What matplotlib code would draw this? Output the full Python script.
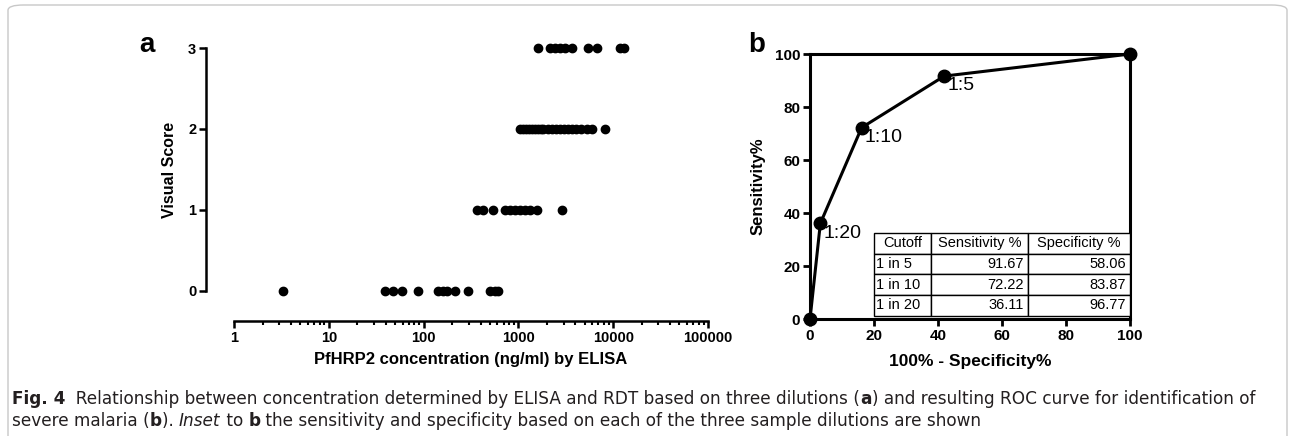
import numpy as np
import matplotlib.pyplot as plt
from matplotlib.patches import FancyBboxPatch

plt.rcParams['font.family'] = ['Liberation Sans', 'DejaVu Sans']

# panel a: ELISA concentration (ng/ml) against visual score
conc_0 = [3.3, 39, 48, 59, 87, 142, 160, 177, 214, 294, 502, 566, 609]
conc_1 = [366, 423, 540, 722, 815, 921, 1040, 1175, 1325, 1571, 2884]
conc_2 = [1040, 1120, 1200, 1290, 1390, 1500, 1610, 1740, 1830, 2050, 2250, 2480,
          2750, 3030, 3350, 3700, 4100, 4600, 5300, 5970, 8200]
conc_3 = [1610, 2155, 2432, 2746, 3103, 3676, 5420, 6745, 11800, 13000]
scores = [0, 1, 2, 3]

# panel b: ROC curve
fpr = [0, 3.23, 16.13, 41.94, 100]
tpr = [0, 36.11, 72.22, 91.67, 100]
pt_labels = ['', '1:20', '1:10', '1:5', '']

tab_cols = ['Cutoff', 'Sensitivity %', 'Specificity %']
tab_rows = [['1 in 5', '91.67', '58.06'],
            ['1 in 10', '72.22', '83.87'],
            ['1 in 20', '36.11', '96.77']]

fig = plt.figure(figsize=(12.95, 4.36), dpi=100)

# frame round the figure
frame = FancyBboxPatch((8/1295, -0.05), 1279/1295, 1 - 5/436 + 0.05,
                       boxstyle='round,pad=0,rounding_size=0.012',
                       transform=fig.transFigure, fc='none', ec='#c8c8c8', lw=1.0)
fig.patches.append(frame)

# ---- panel a ----
axa = fig.add_axes([0.1807, 0.3326, 0.366, 0.5573])
for conc, sc in zip([conc_0, conc_1, conc_2, conc_3], scores):
    axa.plot(conc, [sc]*len(conc), 'o', color='black', ms=6, clip_on=False)
axa.set_xscale('log')
axa.set_xlim(1, 100000)
axa.set_ylim(0, 3)
axa.set_yticks([0, 1, 2, 3])
axa.set_xticks([1, 10, 100, 1000, 10000, 100000])
axa.set_xticklabels(['1', '10', '100', '1000', '10000', '100000'])
axa.spines['top'].set_visible(False)
axa.spines['right'].set_visible(False)
axa.spines['left'].set_position(('outward', 20.2))
axa.spines['bottom'].set_position(('outward', 21.6))
for s in ['left', 'bottom']:
    axa.spines[s].set_linewidth(1.8)
axa.tick_params(which='major', length=5, width=1.8, labelsize=10.5, pad=2)
axa.tick_params(which='minor', length=3, width=1.5)
for lab in axa.get_xticklabels() + axa.get_yticklabels():
    lab.set_fontweight('bold')
axa.set_xlabel('PfHRP2 concentration (ng/ml) by ELISA', fontsize=12, fontweight='bold', labelpad=5)
axa.set_ylabel('Visual Score', fontsize=11.5, fontweight='bold', labelpad=8)
fig.text(147/1295, 1 - 45/436, 'a', fontsize=20, fontweight='bold', ha='center', va='center')

# ---- panel b ----
axb = fig.add_axes([0.6255, 0.2683, 0.2471, 0.6078])
axb.plot(fpr, tpr, '-', color='black', lw=2.2, clip_on=False)
axb.plot(fpr, tpr, 'o', color='black', ms=9, clip_on=False, zorder=5)
for x, y, t in zip(fpr, tpr, pt_labels):
    if t:
        axb.annotate(t, (x, y), xytext=(2, -7), textcoords='offset points',
                     fontsize=14, ha='left', va='center')
axb.set_xlim(0, 100)
axb.set_ylim(0, 100)
axb.set_xticks(range(0, 101, 20))
axb.set_yticks(range(0, 101, 20))
for s in axb.spines.values():
    s.set_linewidth(2.2)
axb.tick_params(length=5, width=2, labelsize=11, pad=2)
for lab in axb.get_xticklabels() + axb.get_yticklabels():
    lab.set_fontweight('bold')
axb.set_xlabel('100% - Specificity%', fontsize=12.5, fontweight='bold', labelpad=8)
axb.set_ylabel('Sensitivity%', fontsize=12, fontweight='bold', labelpad=7)
fig.text(757/1295, 1 - 45/436, 'b', fontsize=20, fontweight='bold', ha='center', va='center')

tab = axb.table(cellText=tab_rows, colLabels=tab_cols,
                colWidths=[57/255, 96/255, 102/255],
                bbox=[0.2, 0.012, 0.8, 0.313], zorder=6)
tab.auto_set_font_size(False)
tab.set_fontsize(10.5)
for (r, c), cell in tab.get_celld().items():
    cell.set_linewidth(1.0)
    cell.set_facecolor('white')
    if r == 0:
        cell._loc = 'center'
        cell.get_text().set_ha('center')
    elif c == 0:
        cell._loc = 'left'
        cell.PAD = 0.03
        cell.get_text().set_ha('left')
    else:
        cell._loc = 'right'
        cell.PAD = 0.04
        cell.get_text().set_ha('right')

# ---- caption ----
cap_font = ['DejaVu Sans']
cap_size = 12.2
renderer = fig.canvas.get_renderer()

line1 = [('Fig. 4', 'b'),
         ('  Relationship between concentration determined by ELISA and RDT based on three dilutions (', 'n'),
         ('a', 'b'),
         (') and resulting ROC curve for identification of', 'n')]
line2 = [('severe malaria (', 'n'), ('b', 'b'), ('). ', 'n'), ('Inset', 'i'), (' to ', 'n'),
         ('b', 'b'),
         (' the sensitivity and specificity based on each of the three sample dilutions are shown', 'n')]

def write_line(pieces, x0, y):
    x = x0
    for txt, style in pieces:
        t = fig.text(x, y, txt, fontsize=cap_size, family=cap_font, va='center', ha='left',
                     fontweight='bold' if style == 'b' else 'normal',
                     fontstyle='italic' if style == 'i' else 'normal', color='#231f20')
        x += t.get_window_extent(renderer=renderer).width / fig.bbox.width

write_line(line1, 12/1295, 1 - 399/436)
write_line(line2, 12/1295, 1 - 421/436)

fig.savefig('out.png', dpi=100)
